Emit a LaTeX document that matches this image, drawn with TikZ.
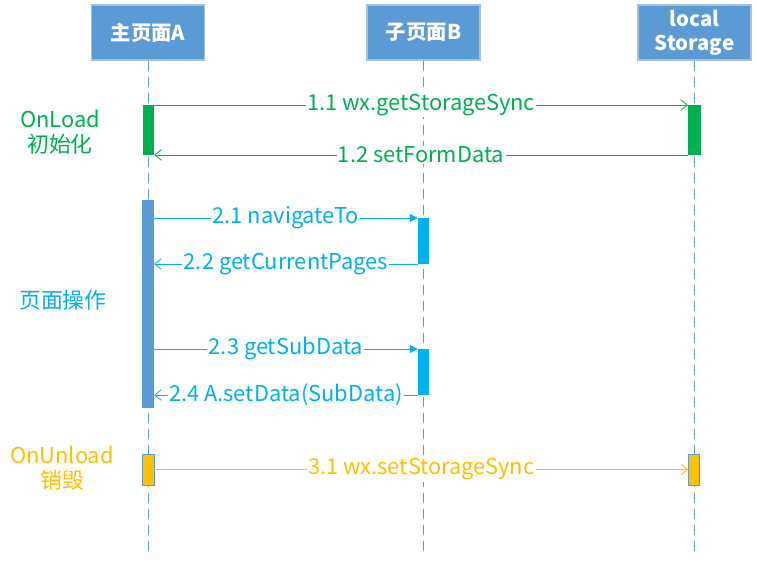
\documentclass[tikz,border=0pt]{standalone}
\usepackage{fontspec}
\setmainfont{Noto Sans CJK SC}
\usetikzlibrary{arrows.meta}
\definecolor{Blue}{HTML}{5B9BD5}
\definecolor{Edge}{HTML}{A9BFDC}
\definecolor{Green}{HTML}{00B050}
\definecolor{Cyan}{HTML}{00B0F0}
\definecolor{Orange}{HTML}{FFC000}

\tikzset{
  head/.style={fill=Blue, draw=Edge, line width=0.8pt, text=white, align=center,
    font=\bfseries\fontsize{15.3}{18}\selectfont, minimum width=84.75pt,
    minimum height=41.25pt, inner sep=0pt},
  life/.style={Blue, line width=0.6pt, dash pattern=on 7.5pt off 4.5pt},
  bar/.style={inner sep=0pt, outer sep=0pt, minimum width=8.5pt},
  msg/.style={line width=0.6pt},
  lbl/.style={fill=white, inner sep=1pt, font=\fontsize{16.4}{19}\selectfont},
  side/.style={align=center, font=\fontsize{16.4}{18.75}\selectfont},
  open/.style={-{Straight Barb[length=5pt,width=8pt]}},
  shut/.style={-{Triangle[length=6pt,width=6pt]}}
}

\begin{document}
\begin{tikzpicture}[x=0.75pt,y=-0.75pt]
\useasboundingbox (0,0) rectangle (757,563);

\node[head] (hA) at (148,32.5) {主页面A};
\node[head] (hB) at (423.5,32.5) {子页面B};
\node[head] (hS) at (694.5,32.5) {local\\Storage};

\coordinate (eA) at (148,555);
\coordinate (eB) at (423.5,555);
\coordinate (eS) at (694.5,555);

\draw[life] (hA.south) -- (eA);
\draw[life] (hB.south) -- (eB);
\draw[life] (hS.south) -- (eS);

\node[bar,fill=Green,minimum height=37.5pt] (aOn) at (148.5,130) {};
\node[bar,fill=Green,minimum height=37.5pt,minimum width=9.75pt] (sOn) at (694.5,130) {};
\node[bar,fill=Blue,minimum height=156pt,minimum width=9pt] (aOp) at (148,304) {};
\node[bar,fill=Cyan,minimum height=34.5pt] (b1) at (423.5,241) {};
\node[bar,fill=Cyan,minimum height=34.5pt] (b2) at (423.5,372) {};
\node[bar,fill=Orange,draw=Blue,line width=0.6pt,minimum height=23.25pt] (aUn) at (148.5,469.5) {};
\node[bar,fill=Orange,draw=Blue,line width=0.6pt,minimum height=23.25pt] (sUn) at (694,469.5) {};

\node[side,text=Green] (tOn) at (60,132) {OnLoad\\初始化};
\node[side,text=Cyan] (tOp) at (63,300) {页面操作};
\node[side,text=Orange] (tUn) at (62,468) {OnUnload\\销毁};

\draw[msg,Green,open] (aOn.north east) -- (sOn.north west) node[lbl,midway] {1.1 wx.getStorageSync};
\draw[msg,Green,open] (sOn.south west) -- (aOn.south east) node[lbl,midway] {1.2 setFormData};

\draw[msg,Cyan,shut] (aOp.east |- b1.north) -- (b1.north west) node[lbl,midway] {2.1 navigateTo};
\draw[msg,Cyan,open] (b1.south west) -- (aOp.east |- b1.south) node[lbl,midway] {2.2 getCurrentPages};
\draw[msg,Cyan,shut] (aOp.east |- b2.north) -- (b2.north west) node[lbl,midway] {2.3 getSubData};
\draw[msg,Cyan,open] (b2.south west) -- (aOp.east |- b2.south) node[lbl,midway] {2.4 A.setData(SubData)};

\draw[msg,Orange,open] (aUn.east) -- (sUn.west) node[lbl,midway] {3.1 wx.setStorageSync};

\end{tikzpicture}
\end{document}
